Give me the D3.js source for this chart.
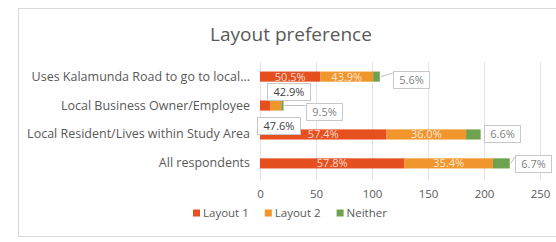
<!DOCTYPE html>
<html>
<head>
<meta charset="utf-8">
<script src="https://cdn.jsdelivr.net/npm/d3@7"></script>
<style>
  body { margin: 0; background: #fff; }
  svg text { font-family: "Open Sans", sans-serif; }
</style>
</head>
<body>
<div id="plot"></div>
<script>
// Data: respondent counts per group
var categories = [
    'Uses Kalamunda Road to go to local...',
    'Local Business Owner/Employee',
    'Local Resident/Lives within Study Area',
    'All respondents'
];
var layout1 = [54, 9, 113, 129];
var layout2 = [47, 10, 71, 79];
var neither = [6, 2, 13, 15];
var seriesNames = ['Layout 1', 'Layout 2', 'Neither'];
var xTicks = [0, 50, 100, 150, 200, 250];

var width = 556,
    height = 242;

var colors = ['#e5501e', '#f0962d', '#6fa24e'];

var svg = d3.select('#plot')
    .append('svg')
    .attr('width', width)
    .attr('height', height);

// Chart frame
svg.append('rect')
    .attr('x', 18.5)
    .attr('y', 8.5)
    .attr('width', 560)
    .attr('height', 228)
    .attr('fill', '#fff')
    .attr('stroke', '#d9d9d9');

svg.append('text')
    .attr('x', 291)
    .attr('y', 41)
    .attr('text-anchor', 'middle')
    .attr('font-size', 19)
    .attr('fill', '#595959')
    .text('Layout preference');

var x = d3.scaleLinear()
    .domain([0, 250])
    .range([260, 540]);

var y = d3.scaleBand()
    .domain(categories)
    .range([62, 178])
    .paddingInner(0.65)
    .paddingOuter(0.33);

// Gridlines
svg.append('g')
    .selectAll('line')
    .data(xTicks)
    .enter()
    .append('line')
    .attr('x1', function(d) { return Math.round(x(d)) + 0.5; })
    .attr('x2', function(d) { return Math.round(x(d)) + 0.5; })
    .attr('y1', 62)
    .attr('y2', 180)
    .attr('stroke', '#e3e3e3');

// X axis labels
var xAxis = svg.append('g')
    .attr('transform', 'translate(0,180)')
    .call(d3.axisBottom(x).tickValues(xTicks).tickSize(0).tickPadding(10));
xAxis.select('.domain').remove();
xAxis.selectAll('text')
    .attr('font-size', 11.5)
    .attr('fill', '#595959')
    .style('font-family', '"Open Sans", sans-serif');

// Y axis labels
var yAxis = svg.append('g')
    .attr('transform', 'translate(260,0)')
    .call(d3.axisLeft(y).tickSize(0).tickPadding(10));
yAxis.select('.domain').remove();
yAxis.selectAll('text')
    .attr('font-size', 12.5)
    .attr('fill', '#595959')
    .style('font-family', '"Open Sans", sans-serif');

// Stack the series
var rows = categories.map(function(c, i) {
    return { cat: c, l1: layout1[i], l2: layout2[i], ne: neither[i], total: layout1[i] + layout2[i] + neither[i] };
});
var stack = d3.stack().keys(['l1', 'l2', 'ne']);
var series = stack(rows);

var bars = svg.append('g');
series.forEach(function(s, si) {
    bars.append('g')
        .attr('fill', colors[si])
        .selectAll('rect')
        .data(s)
        .enter()
        .append('rect')
        .attr('x', function(d) { return x(d[0]); })
        .attr('y', function(d) { return y(d.data.cat); })
        .attr('width', function(d) { return x(d[1]) - x(d[0]); })
        .attr('height', y.bandwidth());
});

function pct(v, t) { return (v / t * 100).toFixed(1) + '%'; }

// Inside labels (white) where they fit
var labels = svg.append('g');
series.slice(0, 2).forEach(function(s) {
    labels.selectAll(null)
        .data(s.filter(function(d) { return x(d[1]) - x(d[0]) > 30; }))
        .enter()
        .append('text')
        .attr('x', function(d) { return (x(d[0]) + x(d[1])) / 2; })
        .attr('y', function(d) { return y(d.data.cat) + y.bandwidth() / 2; })
        .attr('dy', '0.36em')
        .attr('text-anchor', 'middle')
        .attr('font-size', 11)
        .attr('fill', '#fff')
        .attr('fill-opacity', 0.8)
        .text(function(d) { return pct(d[1] - d[0], d.data.total); });
});

// Callout labels: [series index, row index, dx from segment end/centre, dy, leader]
var callouts = [
    [0, 1, 23, -14, false],
    [1, 1, 3, 20, false],
    [2, 0, 13, 3, true],
    [2, 1, 22, 6, true],
    [2, 2, 3, -1, false],
    [2, 3, 5, 0, true]
];

var boxes = svg.append('g');
callouts.forEach(function(c) {
    var d = series[c[0]][c[1]];
    var cy = y(d.data.cat) + y.bandwidth() / 2;
    var txt = pct(d[1] - d[0], d.data.total);
    var isEnd = c[0] === 2;
    var ax = isEnd ? x(d[1]) : (x(d[0]) + x(d[1])) / 2;
    var bw = isEnd ? 36 : 43, bh = 17;
    var bx = isEnd ? ax + c[2] : ax + c[2] - bw / 2;
    var by = cy + c[3] - bh / 2;
    if (c[4]) {
        boxes.append('line')
            .attr('x1', ax + 1)
            .attr('y1', cy)
            .attr('x2', bx)
            .attr('y2', isEnd && c[1] === 1 ? cy : by + 2)
            .attr('stroke', '#bfbfbf');
    }
    boxes.append('rect')
        .attr('x', Math.round(bx) + 0.5)
        .attr('y', Math.round(by) + 0.5)
        .attr('width', bw)
        .attr('height', bh)
        .attr('fill', '#fff')
        .attr('stroke', '#c8c8c8');
    boxes.append('text')
        .attr('x', Math.round(bx) + bw / 2 + 0.5)
        .attr('y', Math.round(by) + bh / 2 + 0.5)
        .attr('dy', '0.36em')
        .attr('text-anchor', 'middle')
        .attr('font-size', 11)
        .attr('fill', isEnd ? '#7f7f7f' : '#404040')
        .text(txt);
});

// Legend
var legend = svg.append('g').attr('transform', 'translate(193,213)');
var lx = 0;
seriesNames.forEach(function(n, i) {
    var item = legend.append('g').attr('transform', 'translate(' + lx + ',0)');
    item.append('rect')
        .attr('x', 0)
        .attr('y', -3.5)
        .attr('width', 7)
        .attr('height', 7)
        .attr('fill', colors[i]);
    var t = item.append('text')
        .attr('x', 10)
        .attr('dy', '0.36em')
        .attr('font-size', 11.5)
        .attr('fill', '#595959')
        .text(n);
    lx += 10 + t.node().getComputedTextLength() + 16;
});
</script>
</body>
</html>
